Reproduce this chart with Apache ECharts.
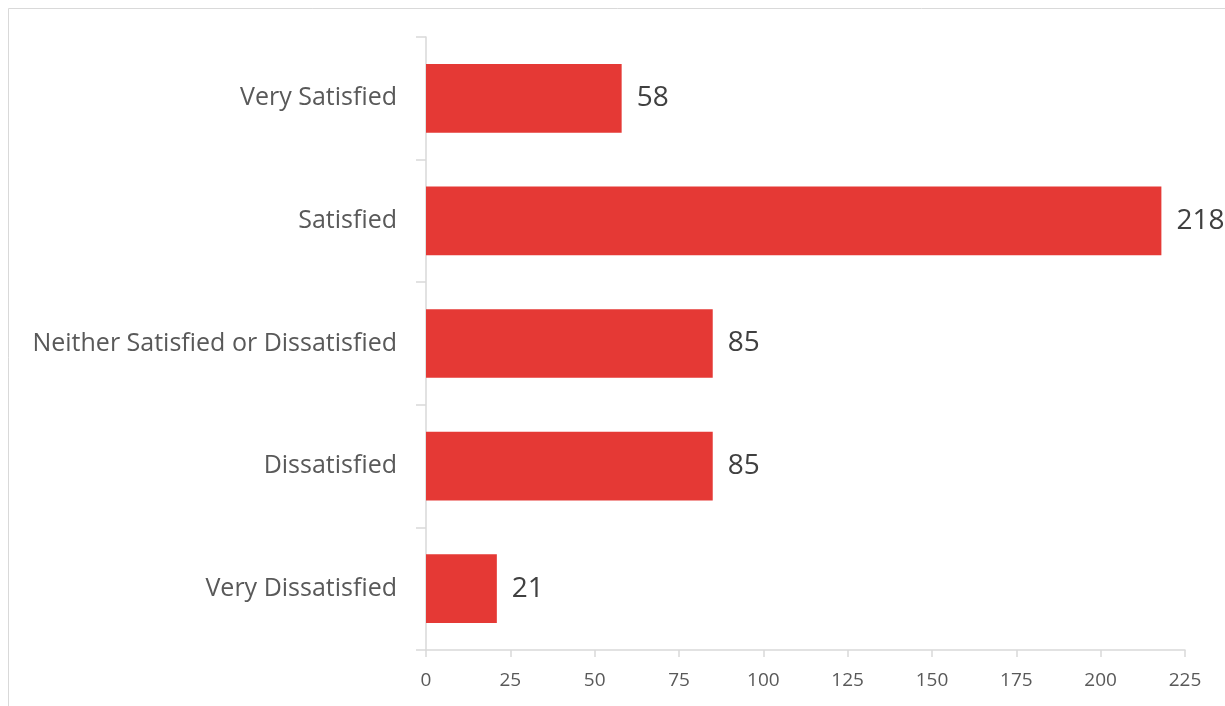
<!DOCTYPE html>
<html>
<head>
<meta charset="utf-8">
<script src="https://cdn.jsdelivr.net/npm/echarts@6/dist/echarts.min.js"></script>
<style>
  html, body { margin: 0; padding: 0; background: #fff; }
  #chart { width: 1225px; height: 706px; }
</style>
</head>
<body>
<div id="chart"></div>
<script>
// categories, top to bottom as drawn
const categories = ['Very Satisfied', 'Satisfied', 'Neither Satisfied or Dissatisfied', 'Dissatisfied', 'Very Dissatisfied']
const counts = [58, 218, 85, 85, 21]
const xTicks = [0, 225, 25]  // min, max, interval

const chart = echarts.init(document.getElementById('chart'))

const option = {
  backgroundColor: '#fff',
  textStyle: { fontFamily: 'Open Sans' },
  graphic: [
    {
      type: 'rect',
      shape: { x: 8.5, y: 8.5, width: 1240, height: 720 },
      style: { fill: 'none', stroke: '#d9d9d9', lineWidth: 1 },
      silent: true
    }
  ],
  grid: { left: 426, right: 40, top: 37, bottom: 56 },
  xAxis: {
    type: 'value',
    min: xTicks[0],
    max: xTicks[1],
    interval: xTicks[2],
    axisLine: { show: true, lineStyle: { color: '#d9d9d9', width: 1.5 } },
    axisTick: { show: true, length: 7, lineStyle: { color: '#d9d9d9', width: 1.5 } },
    splitLine: { show: false },
    axisLabel: { color: '#595959', fontSize: 19, margin: 21, fontFamily: 'Open Sans' }
  },
  yAxis: {
    type: 'category',
    inverse: true,
    data: categories,
    axisLine: { show: true, lineStyle: { color: '#d9d9d9', width: 1.5 } },
    axisTick: { show: true, length: 10, lineStyle: { color: '#d9d9d9', width: 1.5 } },
    axisLabel: {
      color: '#595959', fontSize: 25, margin: 29, fontFamily: 'Open Sans',
      padding: [6, 0, 0, 0]
    }
  },
  series: [
    {
      type: 'bar',
      data: counts,
      barCategoryGap: '44%',
      itemStyle: { color: '#e53935' },
      label: {
        show: true,
        position: 'right',
        distance: 15,
        color: '#404040',
        fontSize: 28,
        fontFamily: 'Open Sans',
        padding: [7, 0, 0, 0]
      }
    }
  ]
}

chart.setOption(option)
</script>
</body>
</html>
